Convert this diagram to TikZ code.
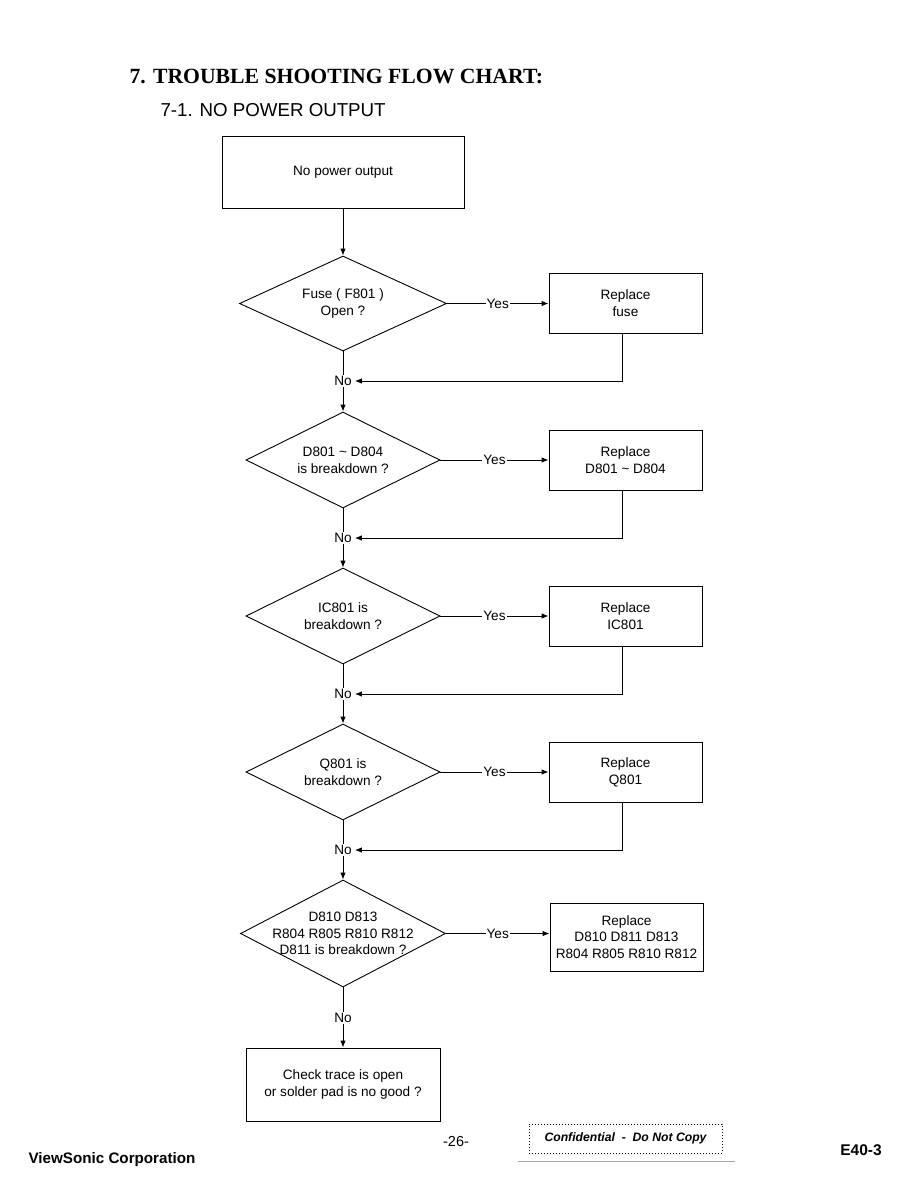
\documentclass[tikz,border=0pt]{standalone}
\usepackage{fontspec}
\setmainfont{Liberation Sans}
\newfontfamily\serifb{Liberation Serif}
\usetikzlibrary{shapes.geometric,arrows.meta}
\begin{document}
\begin{tikzpicture}[x=1pt,y=-1pt,
  txt/.style={font=\fontsize{13.6}{16.8}\selectfont, align=center},
  procbox/.style={draw, line width=0.9pt, txt, inner sep=0pt},
  dia/.style={draw, diamond, line width=0.9pt, inner sep=0pt},
  arr/.style={line width=0.9pt, -{Latex[length=7pt,width=5.5pt]}},
  ln/.style={line width=0.9pt},
  lbl/.style={txt, inner sep=1pt, fill=white}]
\useasboundingbox (0,0) rectangle (918,1188);
\fill[white] (0,0) rectangle (918,1188);

\node[anchor=west, font=\serifb\bfseries\fontsize{21.7}{25}\selectfont] (title) at (126,76) {7. TROUBLE SHOOTING FLOW CHART:};
\node[anchor=west, font=\fontsize{18.7}{22}\selectfont] (sub) at (157,110) {7-1. NO POWER OUTPUT};

\node[procbox, minimum width=242pt, minimum height=72pt] (start) at (343,172) {No power output};

\node[dia, minimum width=207pt, minimum height=95pt, label={[txt]center:Fuse ( F801 )\\Open ?}] (d1) at (343,303.5) {};
\node[procbox, minimum width=153pt, minimum height=60pt] (r1) at (625.5,303) {Replace\\fuse};
\node[txt, inner sep=1pt] (no1) at (343,381) {No};

\node[dia, minimum width=194pt, minimum height=96pt, label={[txt]center:D801 \textasciitilde{} D804\\is breakdown ?}] (d2) at (343,460) {};
\node[procbox, minimum width=153pt, minimum height=60pt] (r2) at (625.5,460) {Replace\\D801 \textasciitilde{} D804};
\node[txt, inner sep=1pt] (no2) at (343,538) {No};

\node[dia, minimum width=194pt, minimum height=96pt, label={[txt]center:IC801 is\\breakdown ?}] (d3) at (343,616) {};
\node[procbox, minimum width=153pt, minimum height=60pt] (r3) at (625.5,616) {Replace\\IC801};
\node[txt, inner sep=1pt] (no3) at (343,694) {No};

\node[dia, minimum width=194pt, minimum height=96pt, label={[txt]center:Q801 is\\breakdown ?}] (d4) at (343,772) {};
\node[procbox, minimum width=153pt, minimum height=60pt] (r4) at (625.5,772) {Replace\\Q801};
\node[txt, inner sep=1pt] (no4) at (343,850) {No};

\node[dia, minimum width=205pt, minimum height=107pt, label={[txt]center:D810 D813\\R804 R805 R810 R812\\D811 is breakdown ?}] (d5) at (343,933.5) {};
\node[procbox, minimum width=153pt, minimum height=68pt] (r5) at (626.5,937) {Replace\\D810 D811 D813\\R804 R805 R810 R812};
\node[txt, inner sep=1pt] (no5) at (343,1018) {No};

\node[procbox, minimum width=194pt, minimum height=73pt] (fin) at (343,1084.5) {Check trace is open\\or solder pad is no good ?};

% connectors
\draw[arr] (start.south) -- (d1.north);
\foreach \d/\r in {d1/r1,d2/r2,d3/r3,d4/r4,d5/r5}
  \draw[arr] (\d.east) -- node[lbl]{Yes} (\d.east -| \r.west);
\foreach \d/\n in {d1/no1,d2/no2,d3/no3,d4/no4,d5/no5}
  \draw[ln] (\d.south) -- (\n.north);
\foreach \r/\n in {r1/no1,r2/no2,r3/no3,r4/no4}
  \draw[arr] ([xshift=-3pt]\r.south) |- ([xshift=2pt]\n.east);
\draw[arr] (no1.south) -- (d2.north);
\draw[arr] (no2.south) -- (d3.north);
\draw[arr] (no3.south) -- (d4.north);
\draw[arr] (no4.south) -- (d5.north);
\draw[arr] (no5.south) -- (fin.north);

% footer
\node[anchor=west, font=\bfseries\fontsize{15.2}{17}\selectfont] (corp) at (25,1160) {ViewSonic Corporation};
\node[font=\fontsize{14.5}{16}\selectfont] (page) at (456,1141) {-26-};
\node[draw, dotted, line width=1pt, minimum width=193pt, minimum height=29pt, font=\bfseries\itshape\fontsize{12.2}{14}\selectfont] (conf) at (625.5,1138.5) {Confidential \ - \ Do Not Copy};
\draw[gray!70, line width=0.6pt] (518,1161) -- (735,1161);
\node[font=\bfseries\fontsize{15.5}{17}\selectfont] (code) at (861,1150) {E40-3};
\end{tikzpicture}
\end{document}
